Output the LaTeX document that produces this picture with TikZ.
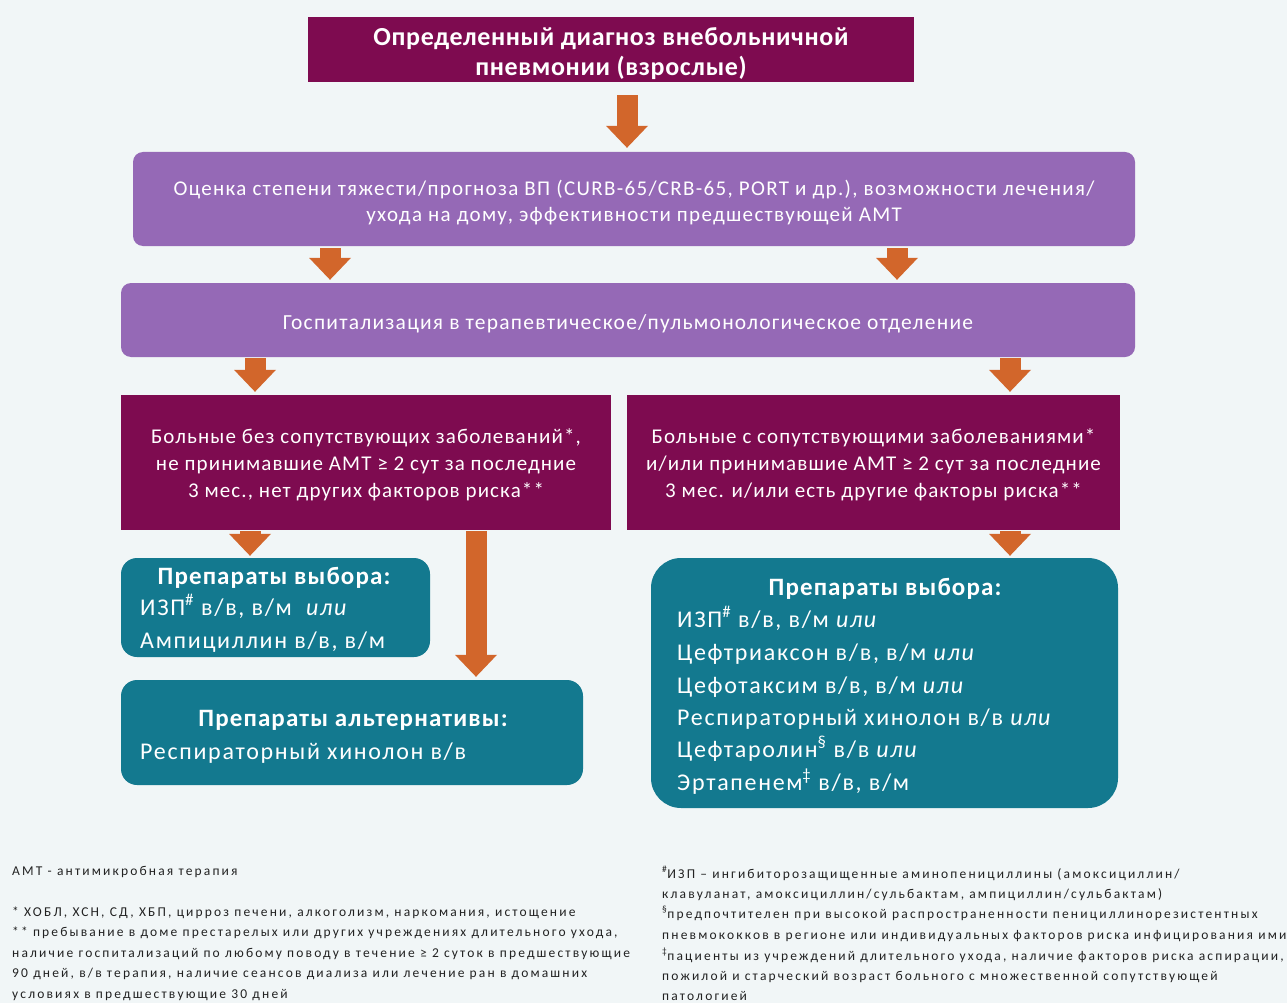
\documentclass[tikz,border=0pt]{standalone}
\usepackage{fontspec}
\setmainfont{Carlito}
\usetikzlibrary{arrows.meta}
\definecolor{bg}{HTML}{F1F6F7}
\definecolor{mag}{HTML}{7E0B50}
\definecolor{lav}{HTML}{9569B6}
\definecolor{tealc}{HTML}{13798F}
\definecolor{arr}{HTML}{D2662B}
\definecolor{fn}{HTML}{222222}
\newcommand\mystrut[1]{\rule{0pt}{#1}}
\newcommand\lsp[1]{\addfontfeature{LetterSpace=#1}}
\begin{document}
\begin{tikzpicture}[x=1pt,y=-1pt,
  magbox/.style={fill=mag,text=white,inner sep=0pt,align=center},
  lavbox/.style={fill=lav,text=white,inner sep=0pt,align=center,rounded corners=10pt},
  tealbox/.style={fill=tealc,inner sep=0pt,rounded corners=16pt},
  bigarrow/.style={draw=arr,line width=21pt,-{Triangle[width=42pt,length=22pt,line width=0pt]}},
  ttl/.style={text=white,inner sep=0pt,font=\fontsize{25}{30}\selectfont\bfseries\lsp{4.5},anchor=base},
  itm/.style={text=white,inner sep=0pt,font=\fontsize{24}{30}\selectfont\lsp{7},anchor=base west},
  fnt/.style={text=fn,inner sep=0pt,font=\fontsize{13.5}{16}\selectfont\lsp{16},anchor=base west}]
\useasboundingbox[fill=bg] (0,0) rectangle (1287,1003);

\node[magbox,minimum width=606pt,minimum height=65pt,font=\fontsize{26}{30}\selectfont\bfseries\lsp{2.5}] (b1) at (611,49.5)
  {\mystrut{27pt}Определенный диагноз внебольничной\\пневмонии (взрослые)};
\node[lavbox,minimum width=1002pt,minimum height=94pt,font=\fontsize{21}{26}\selectfont\lsp{6.3}] (b2) at (634,199)
  {\mystrut{22pt}Оценка степени тяжести/прогноза ВП (CURB-65/CRB-65, PORT и др.), возможности лечения/\\ухода на дому, эффективности предшествующей АМТ};
\node[lavbox,minimum width=1014pt,minimum height=74pt,font=\fontsize{21.5}{26}\selectfont\lsp{5.7}] (b3) at (628,320)
  {\mystrut{22pt}Госпитализация в терапевтическое/пульмонологическое отделение};
\node[magbox,minimum width=490pt,minimum height=135pt,font=\fontsize{21}{27}\selectfont\lsp{5.3}] (b4) at (366,462.5)
  {\mystrut{19pt}Больные без сопутствующих заболеваний*,\\не принимавшие АМТ ≥ 2 сут за последние\\3 мес., нет других факторов риска**};
\node[magbox,minimum width=493pt,minimum height=135pt,font=\fontsize{21}{27}\selectfont\lsp{5.3}] (b5) at (873.5,462.5)
  {\mystrut{19pt}Больные с сопутствующими заболеваниями*\\и/или принимавшие АМТ ≥ 2 сут за последние\\3 мес. и/или есть другие факторы риска**};

\node[tealbox,minimum width=309pt,minimum height=99pt] (b6) at (275.5,607.5) {};
\node[tealbox,minimum width=462pt,minimum height=105pt] (b7) at (352,732.5) {};
\node[tealbox,rounded corners=30pt,minimum width=467pt,minimum height=250pt] (b8) at (884.5,683) {};

\node[ttl] (t6) at (274,584.5) {Препараты выбора:};
\node[itm] (t6a) at (140,615) {ИЗП\textsuperscript{\#} в/в, в/м\ \ \textit{или}};
\node[itm] (t6b) at (140,648) {Ампициллин в/в, в/м};

\node[ttl] (t7) at (353,726.5) {Препараты альтернативы:};
\node[itm] (t7a) at (140,759) {Респираторный хинолон в/в};

\node[ttl] (t8) at (885,595.5) {Препараты выбора:};
\node[itm] (t8a) at (677,627) {ИЗП\textsuperscript{\#} в/в, в/м \textit{или}};
\node[itm] (t8b) at (677,660) {Цефтриаксон в/в, в/м \textit{или}};
\node[itm] (t8c) at (677,693) {Цефотаксим в/в, в/м \textit{или}};
\node[itm] (t8d) at (677,725) {Респираторный хинолон в/в \textit{или}};
\node[itm] (t8e) at (677,757) {Цефтаролин\textsuperscript{§} в/в \textit{или}};
\node[itm] (t8f) at (677,790) {Эртапенем\textsuperscript{‡} в/в, в/м};

\draw[bigarrow,shorten <=13pt,shorten >=4pt] ([xshift=16pt]b1.south) -- ([xshift=-7pt]b2.north);
\draw[bigarrow,shorten <=2pt,shorten >=3pt] ([xshift=-304pt]b2.south) -- ([xshift=-298pt]b3.north);
\draw[bigarrow,shorten <=2pt,shorten >=3pt] ([xshift=263pt]b2.south) -- ([xshift=269pt]b3.north);
\draw[bigarrow,shorten <=1pt,shorten >=3pt] ([xshift=-373pt]b3.south) -- ([xshift=-111pt]b4.north);
\draw[bigarrow,shorten <=1pt,shorten >=3pt] ([xshift=382pt]b3.south) -- ([xshift=136.5pt]b5.north);
\draw[bigarrow,shorten <=1pt,shorten >=2pt] ([xshift=-116pt]b4.south) -- ([xshift=-25.5pt]b6.north);
\draw[bigarrow,shorten <=1pt,shorten >=3pt] ([xshift=110pt]b4.south) -- ([xshift=124pt]b7.north);
\draw[bigarrow,shorten <=1pt,shorten >=2pt] ([xshift=136.5pt]b5.south) -- ([xshift=125.5pt]b8.north);

\node[fnt] (fl1) at (12,875) {АМТ - антимикробная терапия};
\node[fnt] (fl2) at (12,916) {* ХОБЛ, ХСН, СД, ХБП, цирроз печени, алкоголизм, наркомания, истощение};
\node[fnt] (fl3) at (12,936.5) {** пребывание в доме престарелых или других учреждениях длительного ухода,};
\node[fnt] (fl4) at (12,957) {наличие госпитализаций по любому поводу в течение ≥ 2 суток в предшествующие};
\node[fnt] (fl5) at (12,977.5) {90 дней, в/в терапия, наличие сеансов диализа или лечение ран в домашних};
\node[fnt] (fl6) at (12,998) {условиях в предшествующие 30 дней};

\node[fnt] (fr1) at (662,878) {\textsuperscript{\#}ИЗП – ингибиторозащищенные аминопенициллины (амоксициллин/};
\node[fnt] (fr2) at (662,898) {клавуланат, амоксициллин/сульбактам, ампициллин/сульбактам)};
\node[fnt] (fr3) at (662,918) {\textsuperscript{§}предпочтителен при высокой распространенности пенициллинорезистентных};
\node[fnt] (fr4) at (662,939.5) {пневмококков в регионе  или индивидуальных факторов риска инфицирования ими};
\node[fnt] (fr5) at (662,960) {\textsuperscript{‡}пациенты из учреждений длительного ухода, наличие факторов риска аспирации,};
\node[fnt] (fr6) at (662,980) {пожилой и старческий возраст больного с множественной сопутствующей};
\node[fnt] (fr7) at (662,1000) {патологией};
\end{tikzpicture}
\end{document}
